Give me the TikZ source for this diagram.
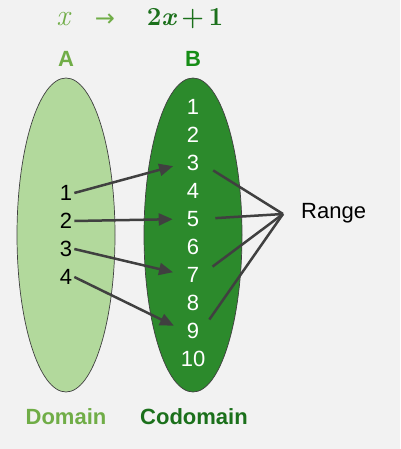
\RequirePackage{fix-cm}
\documentclass[tikz,border=0pt]{standalone}
\usepackage{fontspec}
\setsansfont{Liberation Sans}
\newfontfamily\arrowfont{DejaVu Sans}
\usetikzlibrary{arrows.meta}
\definecolor{domfill}{HTML}{B2D99C}
\definecolor{codfill}{HTML}{2C8A2C}
\definecolor{domtext}{HTML}{70AD47}
\definecolor{codtext}{HTML}{1B701B}
\definecolor{linegray}{HTML}{404040}
\newcommand{\numfont}{\fontsize{22}{24}\sffamily}
\newcommand{\labfont}{\fontsize{22}{24}\sffamily\bfseries}

\begin{document}
\begin{tikzpicture}[x=1pt,y=-1pt,every node/.style={inner sep=2pt}]
\useasboundingbox (0,0) rectangle (400,449);
\fill[black!5] (0,0) rectangle (400,449);
\draw[linegray, line width=0.7pt, fill=domfill] (66,235) ellipse (49 and 157);
\draw[linegray, line width=0.7pt, fill=codfill] (193,235) ellipse (49 and 157);
\node[font=\fontsize{30}{32}\selectfont\itshape, text=domtext] (fx) at (63,19) {x};
\node[font=\fontsize{24}{26}\arrowfont, text=domtext] (maps) at (105,20) {→};
\node[font=\fontsize{26}{28}\selectfont\bfseries, text=codtext] (fy) at (185,19) {2\textit{x}\,+\,1};
\node[font=\labfont, text=domtext] (setA) at (66,59) {A};
\node[font=\labfont, text=codtext!80!green] (setB) at (193,59) {B};
\node[font=\numfont] (a1) at (66,193) {1};
\node[font=\numfont] (a2) at (66,221) {2};
\node[font=\numfont] (a3) at (66,249) {3};
\node[font=\numfont] (a4) at (66,277) {4};
\node[font=\numfont, text=white] (b1) at (193,107) {1};
\node[font=\numfont, text=white] (b2) at (193,135) {2};
\node[font=\numfont, text=white] (b3) at (193,163) {3};
\node[font=\numfont, text=white] (b4) at (193,191) {4};
\node[font=\numfont, text=white] (b5) at (193,219) {5};
\node[font=\numfont, text=white] (b6) at (193,247) {6};
\node[font=\numfont, text=white] (b7) at (193,275) {7};
\node[font=\numfont, text=white] (b8) at (193,303) {8};
\node[font=\numfont, text=white] (b9) at (193,331) {9};
\node[font=\numfont, text=white] (b10) at (193,359) {10};
\draw[linegray, line width=2.5pt, -{Triangle[length=14pt,width=12pt]}, shorten >=12pt] (a1.east) -- (b3.west);
\draw[linegray, line width=2.5pt, -{Triangle[length=14pt,width=12pt]}, shorten >=12pt] (a2.east) -- (b5.west);
\draw[linegray, line width=2.5pt, -{Triangle[length=14pt,width=12pt]}, shorten >=12pt] (a3.east) -- (b7.west);
\draw[linegray, line width=2.5pt, -{Triangle[length=14pt,width=12pt]}, shorten >=12pt] (a4.east) -- (b9.west);
\coordinate (hub) at (283,214);
\draw[linegray, line width=2.5pt, shorten <=14pt] (b3.east) -- (hub);
\draw[linegray, line width=2.5pt, shorten <=14pt] (b5.east) -- (hub);
\draw[linegray, line width=2.5pt, shorten <=14pt] (b7.east) -- (hub);
\draw[linegray, line width=2.5pt, shorten <=14pt] (b9.east) -- (hub);
\node[font=\numfont, anchor=west] (range) at (299,213) {Range};
\node[font=\labfont, text=domtext] (dom) at (66,417) {Domain};
\node[font=\labfont, text=codtext] (codom) at (194,417) {Codomain};
\end{tikzpicture}
\end{document}
